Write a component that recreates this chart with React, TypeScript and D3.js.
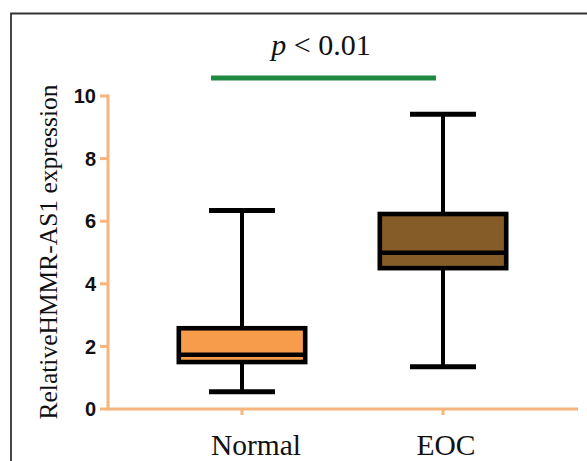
import React from "react";
import * as d3 from "d3";

const categories = ["Normal", "EOC"];
const whiskerLow = [0.55, 1.35];
const q1 = [1.5, 4.5];
const medians = [1.73, 4.99];
const q3 = [2.58, 6.23];
const whiskerHigh = [6.34, 9.42];
const fills = ["#F79C4A", "#855B28"];
const yTicks = [0, 2, 4, 6, 8, 10];
const yLabel = "RelativeHMMR-AS1 expression";
const pText = "< 0.01";

export default function App() {
  const W = 587, H = 461;
  const axisX = 108, axisY = 409, axisRight = 578;
  const y = d3.scaleLinear().domain([0, 10]).range([409, 96]);
  const x = d3.scalePoint().domain(categories).range([242, 443]);
  const labelShift = [14, 3];
  const boxW = 131;
  const capW = 66;
  const axisColor = "#F6B57C";

  return (
    <svg width={W} height={H} style={{ position: "absolute", left: 0, top: 0 }}>
      <rect x={0} y={0} width={W} height={H} fill="#fff" />
      <path d={`M11,${H} V13.5 H${W}`} fill="none" stroke="#333" strokeWidth={1.8} />
      <text
        transform={`translate(57,${252}) rotate(-90)`}
        textAnchor="middle"
        fontFamily="Liberation Serif, Times New Roman, serif"
        fontSize={25.5}
        fill="#111"
      >
        {yLabel}
      </text>
      <text x={321} y={55} textAnchor="middle" fontFamily="Liberation Serif, Times New Roman, serif" fontSize={30} fill="#111">
        <tspan fontStyle="italic">p</tspan> {pText}
      </text>
      <line x1={211} x2={436} y1={78} y2={78} stroke="#1E8A40" strokeWidth={5} />
      <line x1={axisX} x2={axisX} y1={y(10) - 1.5} y2={axisY} stroke={axisColor} strokeWidth={3} />
      <line x1={axisX - 1.5} x2={axisRight} y1={axisY} y2={axisY} stroke={axisColor} strokeWidth={3} />
      {yTicks.map((t) => (
        <g key={t}>
          <line x1={100} x2={axisX} y1={y(t)} y2={y(t)} stroke={axisColor} strokeWidth={3} />
          <text
            x={96}
            y={y(t)}
            dy="0.36em"
            textAnchor="end"
            fontFamily="Liberation Sans, Arial, sans-serif"
            fontWeight="bold"
            fontSize={20}
            fill="#111"
          >
            {t}
          </text>
        </g>
      ))}
      {categories.map((c, i) => (
        <g key={c}>
          <line x1={x(c)} x2={x(c)} y1={axisY} y2={415} stroke={axisColor} strokeWidth={3} />
          <text
            x={x(c)! + labelShift[i]}
            y={455}
            textAnchor="middle"
            fontFamily="Liberation Serif, Times New Roman, serif"
            fontSize={29.5}
            fill="#111"
          >
            {c}
          </text>
        </g>
      ))}
      {categories.map((c, i) => {
        const cx = x(c)!;
        return (
          <g key={c}>
            <line x1={cx} x2={cx} y1={y(whiskerHigh[i])} y2={y(q3[i])} stroke="#000" strokeWidth={4} />
            <line x1={cx} x2={cx} y1={y(q1[i])} y2={y(whiskerLow[i])} stroke="#000" strokeWidth={4} />
            <line x1={cx - capW / 2} x2={cx + capW / 2} y1={y(whiskerHigh[i])} y2={y(whiskerHigh[i])} stroke="#000" strokeWidth={5} />
            <line x1={cx - capW / 2} x2={cx + capW / 2} y1={y(whiskerLow[i])} y2={y(whiskerLow[i])} stroke="#000" strokeWidth={5} />
            <rect
              x={cx - boxW / 2 + 2.3}
              y={y(q3[i])}
              width={boxW - 4.6}
              height={y(q1[i]) - y(q3[i])}
              fill={fills[i]}
              stroke="#000"
              strokeWidth={4.6}
            />
            <line x1={cx - boxW / 2 + 2.3} x2={cx + boxW / 2 - 2.3} y1={y(medians[i])} y2={y(medians[i])} stroke="#000" strokeWidth={4.5} />
          </g>
        );
      })}
    </svg>
  );
}
